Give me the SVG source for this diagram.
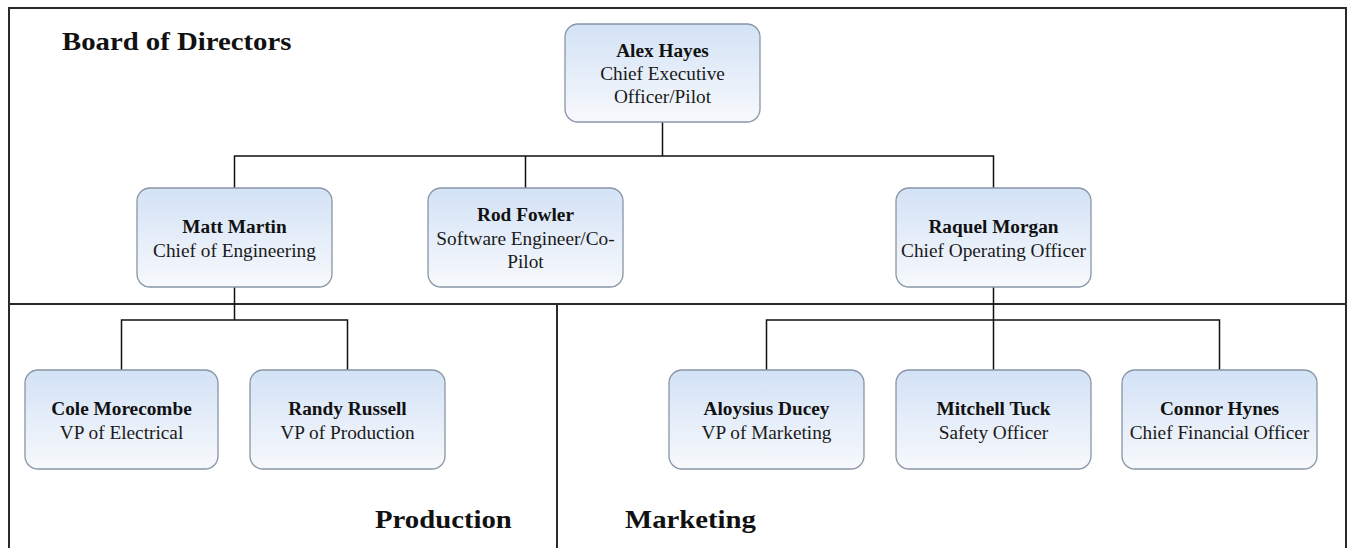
<svg xmlns="http://www.w3.org/2000/svg" width="1349" height="548" viewBox="0 0 1349 548">
<defs>
<linearGradient id="g" x1="0" y1="0" x2="0" y2="1">
<stop offset="0" stop-color="#d3e2f6"/>
<stop offset="1" stop-color="#f7f9fc"/>
</linearGradient>
</defs>
<style>
.box{fill:url(#g);stroke:#8896a6;stroke-width:1.3}
.frame{fill:none;stroke:#2a2a2a;stroke-width:2}
.con{fill:none;stroke:#111;stroke-width:1.5}
.n{font-family:"Liberation Serif",serif;font-size:19.3px;font-weight:bold;fill:#111;text-anchor:middle}
.t{font-family:"Liberation Serif",serif;font-size:19.3px;fill:#1a1a1a;text-anchor:middle}
.h{font-family:"Liberation Serif",serif;font-size:25px;font-weight:bold;fill:#111}
</style>
<rect x="0" y="0" width="1349" height="548" fill="#fff"/>
<g id="frame">
<path class="frame" d="M9 548 V8 H1346 V548"/>
<path class="frame" d="M9 304 H1346 M557 304 V548"/>
</g>
<g id="labels">
<text class="h" transform="translate(62,50) scale(1.15 1)">Board of Directors</text>
<text class="h" transform="translate(375,528) scale(1.15 1)">Production</text>
<text class="h" transform="translate(625,528) scale(1.15 1)">Marketing</text>
</g>
<g id="connectors">
<path class="con" d="M662.5 122 V156 M234.5 188 V156 H993.5 V188 M525.5 156 V188"/>
<path class="con" d="M234.5 287 V320 M121.5 370 V320 H347.5 V370"/>
<path class="con" d="M993.5 287 V320 M766.5 370 V320 H1219.5 V370 M993.5 320 V370"/>
</g>
<g id="alex">
<rect class="box" x="565" y="24" width="195" height="98" rx="13"/>
<text class="n" x="662.5" y="57">Alex Hayes</text>
<text class="t" x="662.5" y="80">Chief Executive</text>
<text class="t" x="662.5" y="103">Officer/Pilot</text>
</g>
<g id="matt">
<rect class="box" x="137" y="188" width="195" height="99" rx="13"/>
<text class="n" x="234.5" y="233">Matt Martin</text>
<text class="t" x="234.5" y="256.5">Chief of Engineering</text>
</g>
<g id="rod">
<rect class="box" x="428" y="188" width="195" height="99" rx="13"/>
<text class="n" x="525.5" y="221">Rod Fowler</text>
<text class="t" x="525.5" y="244.5">Software Engineer/Co-</text>
<text class="t" x="525.5" y="268">Pilot</text>
</g>
<g id="raquel">
<rect class="box" x="896" y="188" width="195" height="99" rx="13"/>
<text class="n" x="993.5" y="233">Raquel Morgan</text>
<text class="t" x="993.5" y="256.5">Chief Operating Officer</text>
</g>
<g id="cole">
<rect class="box" x="25" y="370" width="193" height="99" rx="13"/>
<text class="n" x="121.5" y="415">Cole Morecombe</text>
<text class="t" x="121.5" y="438.5">VP of Electrical</text>
</g>
<g id="randy">
<rect class="box" x="250" y="370" width="195" height="99" rx="13"/>
<text class="n" x="347.5" y="415">Randy Russell</text>
<text class="t" x="347.5" y="438.5">VP of Production</text>
</g>
<g id="aloysius">
<rect class="box" x="669" y="370" width="195" height="99" rx="13"/>
<text class="n" x="766.5" y="415">Aloysius Ducey</text>
<text class="t" x="766.5" y="438.5">VP of Marketing</text>
</g>
<g id="mitchell">
<rect class="box" x="896" y="370" width="195" height="99" rx="13"/>
<text class="n" x="993.5" y="415">Mitchell Tuck</text>
<text class="t" x="993.5" y="438.5">Safety Officer</text>
</g>
<g id="connor">
<rect class="box" x="1122" y="370" width="195" height="99" rx="13"/>
<text class="n" x="1219.5" y="415">Connor Hynes</text>
<text class="t" x="1219.5" y="438.5">Chief Financial Officer</text>
</g>
</svg>
